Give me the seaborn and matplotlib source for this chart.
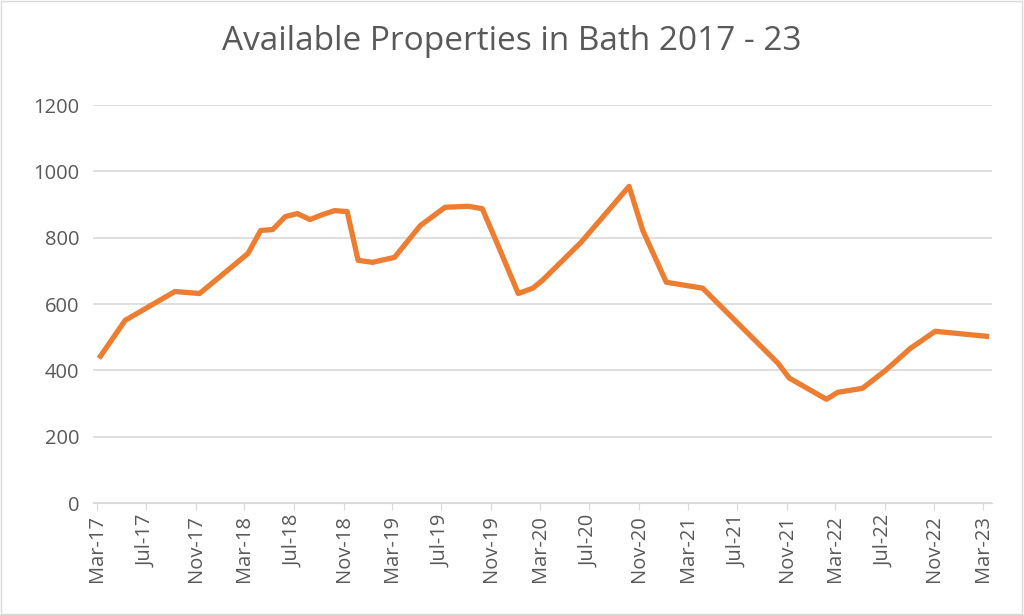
import pandas as pd
import matplotlib
matplotlib.use("Agg")
import matplotlib.pyplot as plt
import matplotlib.dates as mdates
import seaborn as sns

# values
dates = ["2017-03-10", "2017-05-10", "2017-09-10", "2017-11-10", "2018-03-10", "2018-04-10",
         "2018-05-10", "2018-06-10", "2018-07-10", "2018-08-10", "2018-09-10", "2018-10-10",
         "2018-11-10", "2018-12-07", "2019-01-12", "2019-03-07", "2019-05-10", "2019-07-10",
         "2019-09-05", "2019-10-10", "2019-11-18", "2020-01-07", "2020-02-12", "2020-03-07",
         "2020-06-10", "2020-10-07", "2020-11-10", "2021-01-07", "2021-04-07", "2021-10-10",
         "2021-11-07", "2022-02-07", "2022-03-07", "2022-05-07", "2022-07-03", "2022-09-03",
         "2022-11-03", "2023-03-10"]
properties = [443, 551, 638, 632, 753, 822, 825, 864, 873, 855, 870, 882,
              879, 732, 726, 741, 837, 892, 895, 888, 777, 632, 648, 672,
              786, 955, 822, 666, 648, 422, 377, 313, 334, 346, 400, 467,
              518, 503]

df = pd.DataFrame({"Date": pd.to_datetime(dates), "Properties": properties})

grey = "#595959"
fig = plt.figure(figsize=(10.24, 6.15), dpi=100)
ax = fig.add_axes([0.091, 0.182, 0.878, 0.647])
sns.lineplot(data=df, x="Date", y="Properties", ax=ax, color="#ED7D31", linewidth=3.8)

ax.set_ylim(0, 1200)
ax.set_yticks(range(0, 1201, 200))
ax.set_xlim(pd.Timestamp("2017-02-20"), pd.Timestamp("2023-03-24"))
ax.xaxis.set_major_locator(mdates.MonthLocator(bymonth=[3, 7, 11]))
ax.xaxis.set_major_formatter(mdates.DateFormatter("%b-%y"))
plt.setp(ax.get_xticklabels(), rotation=90)
ax.tick_params(axis="both", colors=grey, labelsize=14.5, length=0)
ax.tick_params(axis="y", pad=10)
ax.tick_params(axis="x", length=5, color="#d9d9d9")
ax.grid(axis="y", color="#d9d9d9", linewidth=1.2)
ax.set_axisbelow(True)
for s in ["top", "right", "left"]:
    ax.spines[s].set_visible(False)
ax.spines["bottom"].set_color("#d9d9d9")
ax.set_xlabel("")
ax.set_ylabel("")
fig.suptitle("Available Properties in Bath 2017 - 23", y=0.96, fontsize=24, color=grey,
             fontfamily="Open Sans")
for lab in ax.get_xticklabels() + ax.get_yticklabels():
    lab.set_fontfamily("Open Sans")
fig.patches.append(plt.Rectangle((0.001, 0.002), 0.997, 0.996, transform=fig.transFigure,
                                 fill=False, edgecolor="#d9d9d9", linewidth=1))
fig.savefig("out.png", dpi=100)
